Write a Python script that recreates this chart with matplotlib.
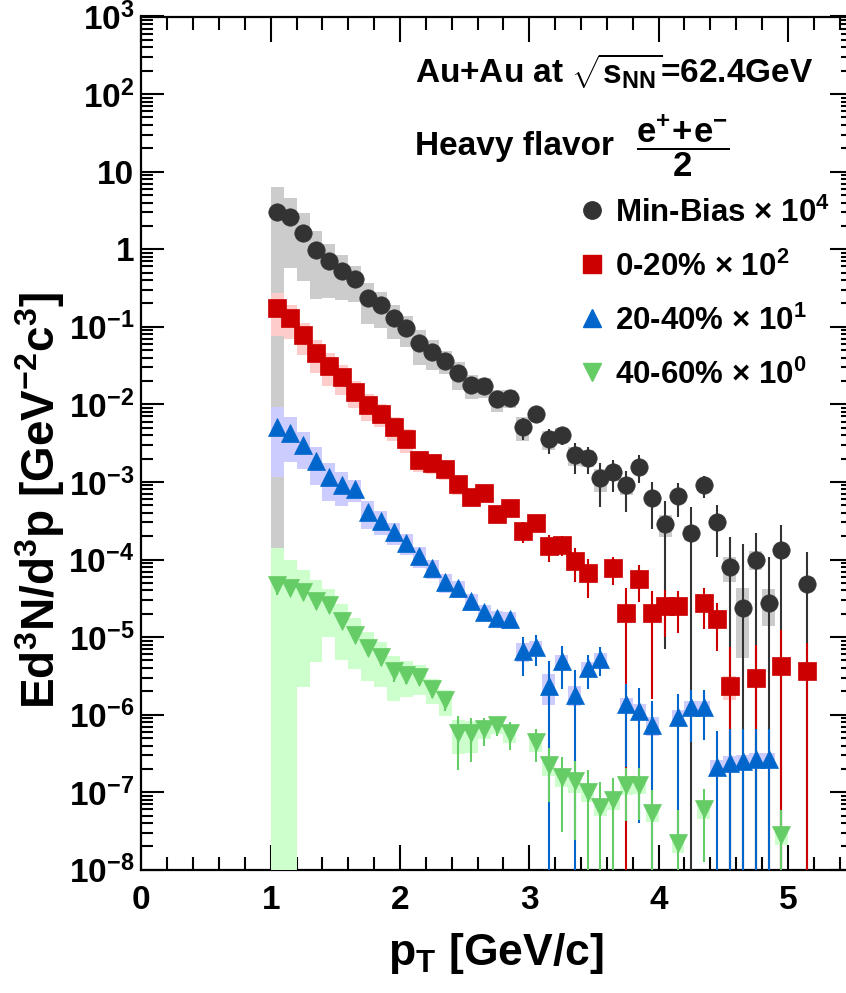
import numpy as np
import matplotlib
matplotlib.use("Agg")
import matplotlib.pyplot as plt
from matplotlib.ticker import LogLocator, FuncFormatter, MultipleLocator, NullFormatter, FixedLocator

plt.rcParams['font.family'] = ['Liberation Sans', 'DejaVu Sans']
plt.rcParams['font.weight'] = 'bold'
plt.rcParams['mathtext.fontset'] = 'custom'
plt.rcParams['mathtext.rm'] = 'Liberation Sans:bold'
plt.rcParams['mathtext.it'] = 'Liberation Sans:bold'
plt.rcParams['mathtext.bf'] = 'Liberation Sans:bold'
plt.rcParams['mathtext.sf'] = 'Liberation Sans:bold'
plt.rcParams['mathtext.default'] = 'rm'

nan = np.nan

# ---------------- data ----------------
pt_bins = [1.05, 1.15, 1.25, 1.35, 1.45, 1.55, 1.65, 1.75, 1.85, 1.95,
           2.05, 2.15, 2.25, 2.35, 2.45, 2.55, 2.65, 2.75, 2.85, 2.95,
           3.05, 3.15, 3.25, 3.35, 3.45, 3.55, 3.65, 3.75, 3.85, 3.95,
           4.05, 4.15, 4.25, 4.35, 4.45, 4.55, 4.65, 4.75, 4.85, 4.95,
           5.05, 5.15]
bin_width = 0.1

series_names = ["Min-Bias", "0-20%", "20-40%", "40-60%"]
scale_exp = [4, 2, 1, 0]

mb_val = [3.05, 2.58, 1.64, 0.98, 0.706, 0.53, 0.41, 0.238, 0.19, 0.130,
          0.0968, 0.0615, 0.0479, 0.0367, 0.0252, 0.0178, 0.0170, 0.01167, 0.0121, 0.00508,
          0.00755, 0.00356, 0.00408, 0.00221, 0.00206, 0.00112, 0.00134, 0.00090, 0.00158, 6.26e-4,
          2.87e-4, 6.59e-4, 2.21e-4, 9.04e-4, 3.07e-4, 7.93e-5, 2.39e-5, 1.0e-4, 2.77e-5, 1.32e-4,
          nan, 4.87e-5]
mb_stat = [0.15, 0.12, 0.07, 0.04, 0.03, 0.022, 0.017, 0.011, 0.009, 0.0065,
           0.005, 0.0035, 0.003, 0.0025, 0.0019, 0.0015, 0.0015, 0.0011, 0.0012, 0.0016,
           0.0012, 0.00127, 0.0011, 0.00095, 0.00078, 0.00065, 0.00059, 0.00049, 0.00062, 0.00038,
           0.00028, 0.00031, 0.00026, 0.00029, 0.0002, 1.18e-4, 1.33e-4, 1.18e-4, 7.9e-5, 1.47e-4,
           nan, 7.5e-5]
mb_sys = [3.2, 2.0, 1.25, 0.75, 0.47, 0.31, 0.2, 0.13, 0.093, 0.061,
          0.042, 0.029, 0.020, 0.012, 0.0098, 0.006, 0.005, 0.0036, 0.003, 0.0017,
          0.0012, 0.001, 0.0009, 0.0006, 0.0005, 0.00037, 0.0003, 0.00022, 0.0002, 0.00008,
          9e-5, 1.2e-4, 5e-5, 1.5e-4, 5e-5, 2.8e-5, 1.85e-5, 2.7e-5, 1.4e-5, 2e-5,
          nan, 1e-5]

c020_val = [0.173, 0.131, 0.0777, 0.0463, 0.0315, 0.0227, 0.01455, 0.00981, 0.00755, 0.00511,
            0.00357, 0.00194, 0.00177, 0.00145, 9.35e-4, 6.45e-4, 7.13e-4, 3.83e-4, 4.57e-4, 2.31e-4,
            2.98e-4, 1.51e-4, 1.56e-4, 9.57e-5, 6.70e-5, nan, 7.69e-5, 2.06e-5, 5.65e-5, 2.06e-5,
            2.54e-5, 2.54e-5, nan, 2.77e-5, 1.71e-5, 2.36e-6, nan, 2.99e-6, nan, 4.28e-6,
            nan, 3.68e-6]
c020_stat = [0.004, 0.003, 0.002, 0.0013, 0.0009, 0.0007, 0.0005, 0.0004, 0.0003, 0.00022,
             0.00017, 0.0001, 0.0001, 0.0001, 8e-5, 7e-5, 8e-5, 6e-5, 6e-5, 7e-5,
             5e-5, 5.7e-5, 4.5e-5, 4.4e-5, 3.5e-5, nan, 3.0e-5, 2.2e-5, 2.8e-5, 1.9e-5,
             1.55e-5, 1.4e-5, nan, 1.5e-5, 1.05e-5, 5.2e-6, nan, 4.9e-6, nan, 8e-6,
             nan, 4.6e-6]
c020_sys = [0.097, 0.062, 0.035, 0.021, 0.014, 0.0096, 0.0056, 0.0037, 0.0025, 0.0017,
            0.0012, 0.0006, 0.0005, 0.0004, 0.00025, 0.00016, 0.00015, 8e-5, 8e-5, 4.5e-5,
            5e-5, 2.5e-5, 2.5e-5, 1.5e-5, 1.0e-5, nan, 1.0e-5, 5e-6, 6e-6, 3e-6,
            3e-6, 3e-6, nan, 3e-6, 2e-6, 8e-7, nan, 4e-7, nan, 5e-7,
            nan, 4e-7]

c2040_val = [5.15e-3, 4.31e-3, 2.96e-3, 1.85e-3, 1.16e-3, 9.04e-4, 8.10e-4, 4.09e-4, 3.16e-4, 2.24e-4,
             1.64e-4, 1.11e-4, 7.76e-5, 5.08e-5, 4.25e-5, 2.89e-5, 2.10e-5, 1.76e-5, 1.69e-5, 6.61e-6,
             7.38e-6, 2.34e-6, 4.87e-6, 1.81e-6, 3.99e-6, 5.26e-6, nan, 1.36e-6, 1.11e-6, 7.28e-7,
             nan, 9.31e-7, 1.25e-6, 1.27e-6, 2.11e-7, 2.40e-7, 2.50e-7, 2.66e-7, 2.70e-7, nan,
             nan, nan]
c2040_stat = [2e-4, 1.5e-4, 1e-4, 7e-5, 5e-5, 4e-5, 3.5e-5, 2e-5, 1.6e-5, 1.2e-5,
              1e-5, 7e-6, 6e-6, 5e-6, 5e-6, 4e-6, 3.5e-6, 3.5e-6, 3e-6, 3.5e-6,
              3.2e-6, 2.6e-6, 2.7e-6, 2.0e-6, 1.85e-6, 2.1e-6, nan, 1.15e-6, 1.07e-6, 7.7e-7,
              nan, 9e-7, 8e-7, 8e-7, 4.1e-7, 4.1e-7, 4e-7, 3.8e-7, 3.8e-7, nan,
              nan, nan]
c2040_sys = [4.0e-3, 2.5e-3, 1.5e-3, 9.5e-4, 5.9e-4, 4.2e-4, 2.6e-4, 1.6e-4, 1.1e-4, 7e-5,
             5e-5, 3.3e-5, 2.2e-5, 1.4e-5, 1.1e-5, 7e-6, 5e-6, 4e-6, 4e-6, 1.8e-6,
             1.5e-6, 1.0e-6, 1.0e-6, 5e-7, 8e-7, 1e-6, nan, 3e-7, 2.5e-7, 2e-7,
             nan, 2.2e-7, 2.5e-7, 2.5e-7, 5e-8, 5e-8, 5e-8, 5e-8, 5e-8, nan,
             nan, nan]

c4060_val = [4.65e-5, 4.26e-5, 3.83e-5, 2.93e-5, 2.56e-5, 1.60e-5, 1.07e-5, 7.23e-6, 5.48e-6, 3.62e-6,
             3.27e-6, 3.08e-6, 2.12e-6, 1.53e-6, 5.85e-7, 5.74e-7, 6.47e-7, 7.35e-7, 5.85e-7, nan,
             4.44e-7, 2.24e-7, 1.56e-7, 1.39e-7, 9.97e-8, 6.50e-8, 7.93e-8, 1.23e-7, 1.24e-7, 5.40e-8,
             nan, 2.23e-8, nan, 6.07e-8, nan, nan, nan, nan, nan, 2.81e-8,
             nan, nan]
c4060_stat = [1.2e-5, 8e-6, 7e-6, 6.5e-6, 5e-6, 3e-6, 2e-6, 1.5e-6, 1.3e-6, 1e-6,
              8e-7, 7e-7, 5e-7, 4e-7, 3.9e-7, 3.3e-7, 2.5e-7, 2e-7, 2.3e-7, nan,
              2e-7, 1.5e-7, 1.25e-7, 1.15e-7, 9.5e-8, 7.2e-8, 7.5e-8, 8e-8, 8e-8, 5.2e-8,
              nan, 3.7e-8, nan, 4.8e-8, nan, nan, nan, nan, nan, 3.1e-8,
              nan, nan]
c4060_sys = [9.3e-5, 5.6e-5, 3.6e-5, 2.45e-5, 1.55e-5, 1.1e-5, 6.8e-6, 4.5e-6, 3.2e-6, 2.1e-6,
             1.6e-6, 1.3e-6, 7.5e-7, 5.6e-7, 2.7e-7, 2.5e-7, 1.6e-7, 1.8e-7, 1.5e-7, nan,
             1.1e-7, 6e-8, 4e-8, 4e-8, 2.5e-8, 1.5e-8, 2e-8, 3e-8, 3e-8, 1.3e-8,
             nan, 6e-9, nan, 1.5e-8, nan, nan, nan, nan, nan, 7e-9,
             nan, nan]

values = [mb_val, c020_val, c2040_val, c4060_val]
stats = [mb_stat, c020_stat, c2040_stat, c4060_stat]
syss = [mb_sys, c020_sys, c2040_sys, c4060_sys]

marker_colors = ["#333333", "#cc0000", "#0066cc", "#66cc66"]
box_colors = ["#cccccc", "#ffcccc", "#ccccff", "#ccffcc"]
markers = ["o", "s", "^", "v"]
msizes = [12.5, 12.5, 12.5, 12.5]

x_ticks = [0, 1, 2, 3, 4, 5]
y_min, y_max = 1e-8, 1e3
x_min, x_max = 0.0, 5.5

# ---------------- figure ----------------
W, H = 846, 993
fig = plt.figure(figsize=(W / 100, H / 100), dpi=100)
ax_left, ax_right, ax_top, ax_bot = 141.4, 852.6, 16.5, 869.8
ax = fig.add_axes([ax_left / W, 1 - ax_bot / H, (ax_right - ax_left) / W, (ax_bot - ax_top) / H])
ax.set_yscale('log')
ax.set_xlim(x_min, x_max)
ax.set_ylim(y_min, y_max)

floor = 1e-10
pt = np.array(pt_bins)
for i in range(4):
    v = np.array(values[i], dtype=float)
    st = np.array(stats[i], dtype=float)
    sy = np.array(syss[i], dtype=float)
    ok = ~np.isnan(v)
    x = pt[ok]
    vv, ss, yy = v[ok], st[ok], sy[ok]
    z0 = 2 + i * 3
    lo_box = np.maximum(vv - yy, floor)
    hi_box = vv + yy
    ax.bar(x, hi_box - lo_box, bottom=lo_box, width=bin_width, color=box_colors[i],
           edgecolor='none', linewidth=0, zorder=z0)
    lo = np.maximum(vv - ss, floor)
    hi = vv + ss
    ax.vlines(x, lo, hi, colors=marker_colors[i], linewidth=1.5, zorder=z0 + 1)
    ax.plot(x, vv, ls='none', marker=markers[i], ms=msizes[i], color=marker_colors[i],
            mec=marker_colors[i], mew=0.5, zorder=z0 + 2)

# axes / ticks
for s in ax.spines.values():
    s.set_linewidth(1.6)
ax.xaxis.set_major_locator(FixedLocator(x_ticks))
ax.xaxis.set_minor_locator(MultipleLocator(0.2))
ax.yaxis.set_major_locator(LogLocator(base=10, numticks=30))
ax.yaxis.set_minor_locator(LogLocator(base=10, subs=np.arange(2, 10), numticks=200))
ax.yaxis.set_minor_formatter(NullFormatter())

def yfmt(val, pos):
    e = int(round(np.log10(val)))
    if e == 0:
        return "1"
    if e == 1:
        return "10"
    return r"$10^{%d}$" % e

ax.yaxis.set_major_formatter(FuncFormatter(yfmt))
ax.xaxis.set_major_formatter(FuncFormatter(lambda v, p: "%d" % v))

ax.tick_params(which='both', direction='in', top=True, right=True, width=1.5, color='black')
ax.tick_params(axis='y', which='major', length=16.5, labelsize=24, pad=5)
ax.tick_params(axis='y', which='minor', length=8.6)
ax.tick_params(axis='x', which='major', length=18, labelsize=24, pad=11)
ax.tick_params(axis='x', which='minor', length=9.4)
for lab in ax.get_xticklabels() + ax.get_yticklabels():
    lab.set_fontweight('bold')

# axis titles
fig.text(40 / W, 1 - 500 / H, r"Ed$^{3}$N/d$^{3}$p [GeV$^{-2}$c$^{3}$]", rotation=90,
         ha='center', va='center', fontsize=33, fontweight='bold')
fig.text(496 / W, 1 - 953 / H, r"p$_{T}$ [GeV/c]", ha='center', va='center',
         fontsize=32, fontweight='bold')

# annotations
def axfrac(px, py):
    return ((px - ax_left) / (ax_right - ax_left), (ax_bot - py) / (ax_bot - ax_top))

tx, ty = axfrac(415, 82.7)
ax.text(tx, ty, r"Au+Au at $\sqrt{s_{NN}}$=62.4GeV", transform=ax.transAxes,
        ha='left', va='baseline', fontsize=24, fontweight='bold')
tx, ty = axfrac(415, 155)
ax.text(tx, ty, "Heavy flavor", transform=ax.transAxes,
        ha='left', va='baseline', fontsize=24, fontweight='bold')
fx, fy = axfrac(683, 146)
ax.text(fx, fy, r"$\dfrac{e^{+}\!+\!e^{-}}{2}$", transform=ax.transAxes,
        ha='center', va='center', fontsize=25, fontweight='bold')

# legend (manual)
leg_y = [210, 264, 318, 372]
for i in range(4):
    mx, my = axfrac(591.7, leg_y[i])
    ax.plot([mx], [my], transform=ax.transAxes, ls='none', marker=markers[i],
            ms=msizes[i], color=marker_colors[i], mec=marker_colors[i], clip_on=False, zorder=30)
    lx, ly = axfrac(615, leg_y[i] + 12)
    ax.text(lx, ly, series_names[i] + r" $\times$ 10$^{%d}$" % scale_exp[i],
            transform=ax.transAxes, ha='left', va='baseline', fontsize=22.5, fontweight='bold')

fig.savefig("out.png", dpi=100)
